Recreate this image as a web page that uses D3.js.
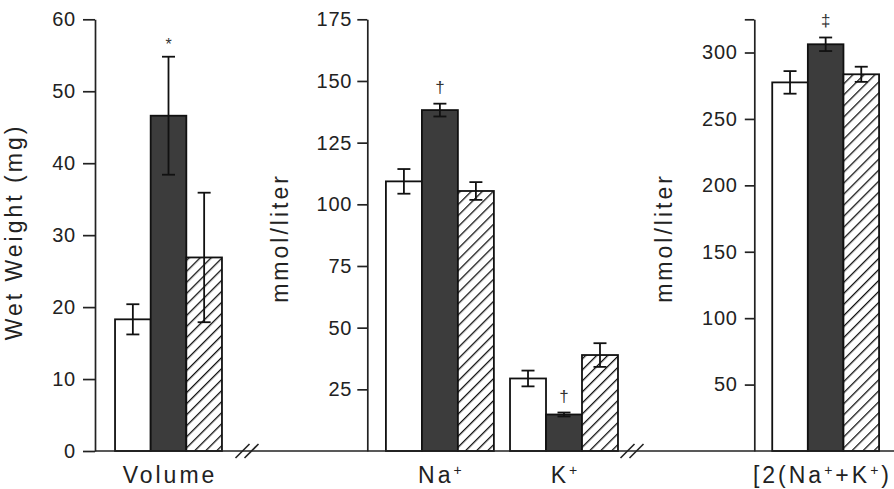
<!DOCTYPE html>
<html>
<head>
<meta charset="utf-8">
<script src="https://cdn.jsdelivr.net/npm/d3@7"></script>
<style>
  html, body { margin: 0; padding: 0; background: #fff; }
  svg { display: block; }
  text { font-family: "Liberation Sans", Arial, Helvetica, sans-serif; fill: #222; }
</style>
</head>
<body>
<svg id="chart" width="894" height="489"></svg>
<script>
// ---- data ----
const series = ["Control", "Treated", "Recovered"];
const volumeGroups = ["Volume"];
const volumeValues = [[18.3, 46.6, 26.9]];
const volumeErrors = [[2.1, 8.2, 9.0]];
const volumeTicks = [0, 10, 20, 30, 40, 50, 60];
const volumeMarks = [["", "*", ""]];

const ionGroups = ["Na⁺", "K⁺"];
const ionValues = [[109.3, 138.2, 105.4], [29.4, 14.8, 38.9]];
const ionErrors = [[5.0, 2.6, 3.6], [3.2, 0.8, 4.8]];
const ionTicks = [25, 50, 75, 100, 125, 150, 175];
const ionMarks = [["", "†", ""], ["", "†", ""]];

const totalGroups = ["[2(Na⁺+K⁺)"];
const totalValues = [[277.5, 306.2, 283.6]];
const totalErrors = [[8.5, 5.1, 5.7]];
const totalTicks = [50, 100, 150, 200, 250, 300, 325];
const totalLabeled = [50, 100, 150, 200, 250, 300];
const totalMarks = [["", "‡", ""]];

// ---- layout ----
const W = 894;
const svg = d3.select("#chart");
const baseY = 451, topY = 19.3;
const darkFill = "#3c3c3c";
const labelSize = 23, labelSpacing = 3.0;

const defs = svg.append("defs");
defs.append("pattern")
  .attr("id", "hatch")
  .attr("patternUnits", "userSpaceOnUse")
  .attr("width", 7.8).attr("height", 7.8)
  .attr("patternTransform", "rotate(45)")
  .call(p => {
    p.append("rect").attr("width", 7.8).attr("height", 7.8).attr("fill", "#fff");
    p.append("line").attr("x1", 0).attr("y1", 0).attr("x2", 0).attr("y2", 7.8)
      .attr("stroke", "#111").attr("stroke-width", 2.6);
  });

const fills = ["#fff", darkFill, "url(#hatch)"];

// write a label, turning "⁺" into a raised small "+"
function richText(sel, str) {
  const chunks = str.split(/(⁺)/).filter(s => s.length);
  let raised = false;
  chunks.forEach(c => {
    if (c === "⁺") {
      sel.append("tspan").text("+").attr("font-size", 14).attr("dy", raised ? 0 : -8);
      raised = true;
    } else {
      sel.append("tspan").text(c).attr("font-size", labelSize).attr("dy", raised ? 8 : 0);
      raised = false;
    }
  });
}

function panel(opts) {
  const y = d3.scaleLinear().domain([0, opts.max]).range([baseY, topY]);
  const x = d3.scaleBand().domain(opts.groups).range([opts.axisX, opts.endX])
    .paddingInner(0.13).paddingOuter(opts.outer);
  const inner = d3.scaleBand().domain(d3.range(series.length)).range([0, x.bandwidth()]).padding(0);

  const axis = d3.axisLeft(y).tickValues(opts.ticks).tickSize(opts.tickSize).tickSizeOuter(0)
    .tickPadding(opts.pad)
    .tickFormat(d => opts.labeled.includes(d) ? d : "");
  const ag = svg.append("g").attr("transform", `translate(${opts.axisX},0)`).call(axis);
  ag.select(".domain").attr("stroke", "#222").attr("stroke-width", 1.7);
  ag.selectAll(".tick line").attr("stroke", "#222").attr("stroke-width", 1.7);
  ag.selectAll(".tick text").attr("font-size", 20).attr("fill", "#222")
    .style("font-family", '"Liberation Sans", Arial, sans-serif').attr("letter-spacing", 0.8);

  opts.groups.forEach((g, gi) => {
    const gx = x(g);
    const vals = opts.values[gi];
    const errs = opts.errors[gi];
    const gg = svg.append("g").attr("transform", `translate(${gx},0)`);
    gg.selectAll("rect.bar").data(vals).join("rect")
      .attr("class", "bar")
      .attr("x", (d, i) => inner(i))
      .attr("y", d => y(d))
      .attr("width", inner.bandwidth())
      .attr("height", d => baseY - y(d))
      .attr("fill", (d, i) => fills[i])
      .attr("stroke", "#111").attr("stroke-width", 1.8);
    const cap = 6.5;
    vals.forEach((v, i) => {
      const cx = inner(i) + inner.bandwidth() / 2;
      gg.append("line").attr("x1", cx).attr("x2", cx)
        .attr("y1", y(v + errs[i])).attr("y2", y(v - errs[i]))
        .attr("stroke", "#111").attr("stroke-width", 1.8);
      [v + errs[i], v - errs[i]].forEach(e => {
        gg.append("line").attr("x1", cx - cap).attr("x2", cx + cap)
          .attr("y1", y(e)).attr("y2", y(e))
          .attr("stroke", "#111").attr("stroke-width", 1.8);
      });
      const m = opts.marks[gi][i];
      if (m) {
        gg.append("text").attr("x", cx).attr("y", y(v + errs[i]) - (m === "*" ? 7 : 11))
          .attr("text-anchor", "middle").attr("font-size", m === "*" ? 16 : 17)
          .style("fill", "#333").text(m);
      }
    });
    const lbl = svg.append("text").attr("x", gx + x.bandwidth() / 2 + labelSpacing / 2).attr("y", 483)
      .attr("text-anchor", "middle").attr("font-size", labelSize).attr("letter-spacing", labelSpacing);
    richText(lbl, g);
    // keep the label inside the picture
    const bb = lbl.node().getBBox();
    const over = bb.x + bb.width - (W - 2);
    if (over > 0) lbl.attr("x", +lbl.attr("x") - over);
  });

  svg.append("text")
    .attr("transform", `translate(${opts.titleX},${opts.titleY}) rotate(-90)`)
    .attr("text-anchor", "middle").attr("font-size", labelSize).attr("letter-spacing", labelSpacing)
    .text(opts.title);
}

panel({ groups: volumeGroups, values: volumeValues, errors: volumeErrors, marks: volumeMarks,
  max: 60, ticks: volumeTicks, labeled: volumeTicks, axisX: 95, endX: 242, outer: 0.163,
  tickSize: 12, pad: 7, title: "Wet Weight (mg)", titleX: 22, titleY: 232, });

panel({ groups: ionGroups, values: ionValues, errors: ionErrors, marks: ionMarks,
  max: 175, ticks: ionTicks, labeled: ionTicks, axisX: 367.3, endX: 636.6, outer: 0.15,
  tickSize: 10, pad: 5, title: "mmol/liter", titleX: 287.5, titleY: 238 });

panel({ groups: totalGroups, values: totalValues, errors: totalErrors, marks: totalMarks,
  max: 325, ticks: totalTicks, labeled: totalLabeled, axisX: 754.3, endX: 897, outer: 0.146,
  tickSize: 9.5, pad: 7, title: "mmol/liter", titleX: 672, titleY: 238 });

// baseline with axis breaks
svg.append("line").attr("x1", 95).attr("x2", W).attr("y1", baseY).attr("y2", baseY)
  .attr("stroke", "#222").attr("stroke-width", 1.7);
[247, 632].forEach(bx => {
  [-4.5, 4.5].forEach(off => {
    svg.append("line")
      .attr("x1", bx + off - 7).attr("y1", baseY + 7)
      .attr("x2", bx + off + 7).attr("y2", baseY - 7)
      .attr("stroke", "#222").attr("stroke-width", 1.6);
  });
});
</script>
</body>
</html>
